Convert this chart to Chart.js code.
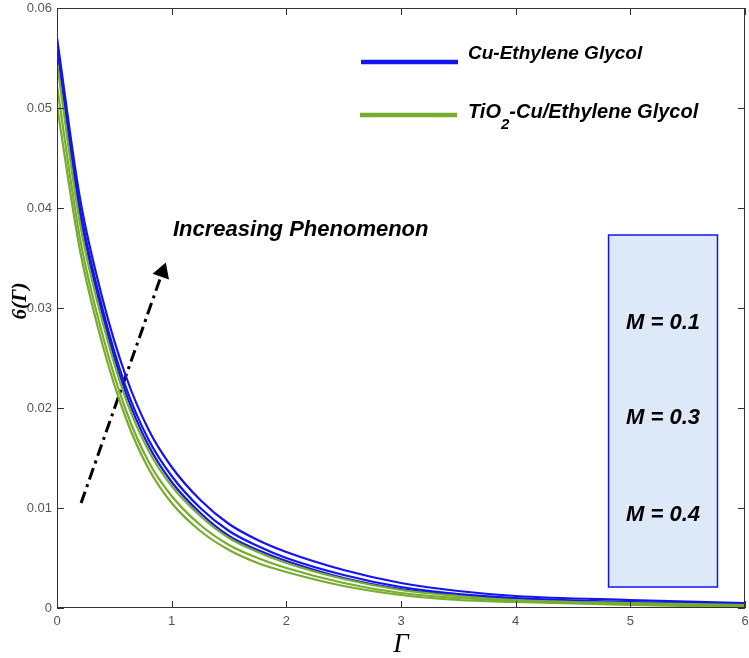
<!DOCTYPE html>
<html lang="en">
<head>
<meta charset="UTF-8">
<title>Temperature profile</title>
<script src="https://cdn.jsdelivr.net/npm/chart.js"></script>
<style>
  html, body { margin: 0; padding: 0; background: #fff; }
  #wrap { width: 749px; height: 658px; }
</style>
</head>
<body>
<div id="wrap"><canvas id="profile" width="749" height="658"></canvas></div>
<script>
const gammaPts = [0, 0.2, 0.4, 0.6, 0.8, 1.0, 1.25, 1.5, 1.75, 2, 2.5, 3, 3.5, 4, 5, 6];

// Cu-Ethylene Glycol (blue), three M values
const cuM1 = [0.0570, 0.0410, 0.0308, 0.0232, 0.0178, 0.0141, 0.0108, 0.0084, 0.0068, 0.0056, 0.0038, 0.0025, 0.0017, 0.0012, 0.0008, 0.0005];
const cuM3 = [0.0565, 0.0400, 0.0298, 0.0221, 0.0168, 0.0132, 0.0100, 0.0077, 0.0062, 0.0050, 0.0033, 0.0021, 0.0014, 0.0010, 0.0006, 0.0004];
const cuM4 = [0.0560, 0.0395, 0.0292, 0.0215, 0.0162, 0.0126, 0.0095, 0.0072, 0.0058, 0.0047, 0.0030, 0.0019, 0.0013, 0.0009, 0.0005, 0.0003];

// TiO2-Cu/Ethylene Glycol (green), three M values
const hyM1 = [0.0545, 0.0385, 0.0285, 0.0209, 0.0157, 0.0122, 0.0092, 0.0070, 0.0056, 0.0045, 0.0029, 0.0018, 0.0012, 0.0008, 0.0005, 0.0003];
const hyM3 = [0.0522, 0.0370, 0.0272, 0.0198, 0.0146, 0.0112, 0.0083, 0.0063, 0.0050, 0.0040, 0.0025, 0.0015, 0.0010, 0.0007, 0.0004, 0.0002];
const hyM4 = [0.0502, 0.0358, 0.0262, 0.0190, 0.0139, 0.0105, 0.0077, 0.0058, 0.0045, 0.0036, 0.0022, 0.0013, 0.0008, 0.0006, 0.0003, 0.0001];

// dash-dot arrow (start, tip)
const arrowX = [0.21, 0.92];
const arrowY = [0.0105, 0.0336];

const xTicks = [0, 1, 2, 3, 4, 5, 6];
const yTicks = [0, 0.01, 0.02, 0.03, 0.04, 0.05, 0.06];
const mLabels = ['M = 0.1', 'M = 0.3', 'M = 0.4'];

const BLUE = '#1414f0';
const GREEN = '#77ad2f';

function pts(ys) {
    return ys.map((y, i) => ({ x: gammaPts[i], y: y }));
}

function curve(ys, color) {
    return {
        data: pts(ys),
        borderColor: color,
        borderWidth: 2.2,
        pointRadius: 0,
        fill: false,
        cubicInterpolationMode: 'monotone'
    };
}

const datasets = [
    curve(hyM4, GREEN), curve(hyM3, GREEN), curve(hyM1, GREEN),
    curve(cuM4, BLUE), curve(cuM3, BLUE), curve(cuM1, BLUE),
    {
        data: arrowX.map((x, i) => ({ x: x, y: arrowY[i] })),
        borderColor: '#000',
        borderWidth: 3,
        borderDash: [12, 5, 3, 5],
        pointStyle: 'triangle',
        pointRadius: [0, 7],
        pointRotation: [0, 19.5],
        pointBackgroundColor: '#000',
        pointBorderColor: '#000',
        tension: 0
    }
];

const SANS = '"Liberation Sans", Arial, sans-serif';

// frame, inward ticks, legend, notes and axis titles
const decor = {
    id: 'decor',
    afterDraw(chart) {
        const ctx = chart.ctx;
        const a = chart.chartArea;
        const xs = chart.scales.x, ys = chart.scales.y;
        ctx.save();

        // box + ticks on all sides
        ctx.strokeStyle = '#333';
        ctx.lineWidth = 1;
        ctx.strokeRect(a.left + 0.5, a.top + 0.5, a.right - a.left - 1, a.bottom - a.top - 1);
        ctx.beginPath();
        xTicks.forEach(t => {
            const px = Math.round(xs.getPixelForValue(t)) + 0.5;
            ctx.moveTo(px, a.bottom); ctx.lineTo(px, a.bottom - 7);
            ctx.moveTo(px, a.top); ctx.lineTo(px, a.top + 7);
        });
        yTicks.forEach(t => {
            const py = Math.round(ys.getPixelForValue(t)) + 0.5;
            ctx.moveTo(a.left, py); ctx.lineTo(a.left + 7, py);
            ctx.moveTo(a.right, py); ctx.lineTo(a.right - 7, py);
        });
        ctx.stroke();

        // legend
        ctx.lineWidth = 4.5;
        ctx.strokeStyle = BLUE;
        ctx.beginPath(); ctx.moveTo(361, 62); ctx.lineTo(458, 62); ctx.stroke();
        ctx.strokeStyle = GREEN;
        ctx.beginPath(); ctx.moveTo(360, 115); ctx.lineTo(457, 115); ctx.stroke();

        ctx.fillStyle = '#000';
        ctx.textBaseline = 'alphabetic';
        ctx.textAlign = 'left';
        ctx.font = 'italic bold 19px ' + SANS;
        ctx.fillText('Cu-Ethylene Glycol', 468, 59);
        let x0 = 468;
        ctx.font = 'italic bold 20px ' + SANS;
        ctx.fillText('TiO', x0, 118);
        x0 += ctx.measureText('TiO').width;
        ctx.font = 'italic bold 15px ' + SANS;
        ctx.fillText('2', x0, 129);
        x0 += ctx.measureText('2').width;
        ctx.font = 'italic bold 20px ' + SANS;
        ctx.fillText('-Cu/Ethylene Glycol', x0, 118);

        // note
        ctx.font = 'italic bold 22px ' + SANS;
        ctx.fillText('Increasing Phenomenon', 173, 236);

        // M box
        const bx1 = xs.getPixelForValue(4.81), bx2 = xs.getPixelForValue(5.76);
        const by1 = ys.getPixelForValue(0.0373), by2 = ys.getPixelForValue(0.0021);
        ctx.fillStyle = '#dde9f8';
        ctx.fillRect(bx1, by1, bx2 - bx1, by2 - by1);
        ctx.strokeStyle = BLUE;
        ctx.lineWidth = 1.5;
        ctx.strokeRect(bx1, by1, bx2 - bx1, by2 - by1);
        ctx.fillStyle = '#000';
        ctx.textAlign = 'center';
        ctx.textBaseline = 'middle';
        ctx.font = 'italic bold 22px ' + SANS;
        const cx = (bx1 + bx2) / 2;
        [323, 418, 515].forEach((y, i) => ctx.fillText(mLabels[i], cx, y));

        // axis titles
        ctx.font = 'italic 27px "Liberation Serif", "DejaVu Serif", serif';
        ctx.textBaseline = 'alphabetic';
        ctx.fillText('\u0393', (a.left + a.right) / 2, 652);
        ctx.save();
        ctx.translate(26, 301);
        ctx.rotate(-Math.PI / 2);
        ctx.font = 'italic bold 21px "Liberation Serif", "DejaVu Serif", serif';
        ctx.fillText('6(\u0393)', 0, 0);
        ctx.restore();

        ctx.restore();
    }
};

const tickFont = { family: SANS, size: 13 };

new Chart(document.getElementById('profile').getContext('2d'), {
    type: 'line',
    data: { datasets: datasets },
    options: {
        responsive: false,
        animation: false,
        layout: { autoPadding: false, padding: { top: 8, right: 4, left: 0, bottom: 0 } },
        plugins: { legend: { display: false }, tooltip: { enabled: false } },
        scales: {
            x: {
                type: 'linear',
                min: 0, max: 6,
                afterFit: s => { s.height = 50; s.paddingLeft = 0; s.paddingRight = 0; },
                afterBuildTicks: s => { s.ticks = xTicks.map(v => ({ value: v })); },
                grid: { display: false, drawTicks: false },
                border: { display: false },
                ticks: { color: '#555', font: tickFont, padding: 6, maxRotation: 0 }
            },
            y: {
                min: 0, max: 0.06,
                afterFit: s => { s.width = 57; s.paddingTop = 0; s.paddingBottom = 0; },
                afterBuildTicks: s => { s.ticks = yTicks.map(v => ({ value: v })); },
                grid: { display: false, drawTicks: false },
                border: { display: false },
                ticks: {
                    color: '#555', font: tickFont, padding: 5,
                    callback: v => v === 0 ? '0' : v.toFixed(2)
                }
            }
        }
    },
    plugins: [decor]
});
</script>
</body>
</html>
